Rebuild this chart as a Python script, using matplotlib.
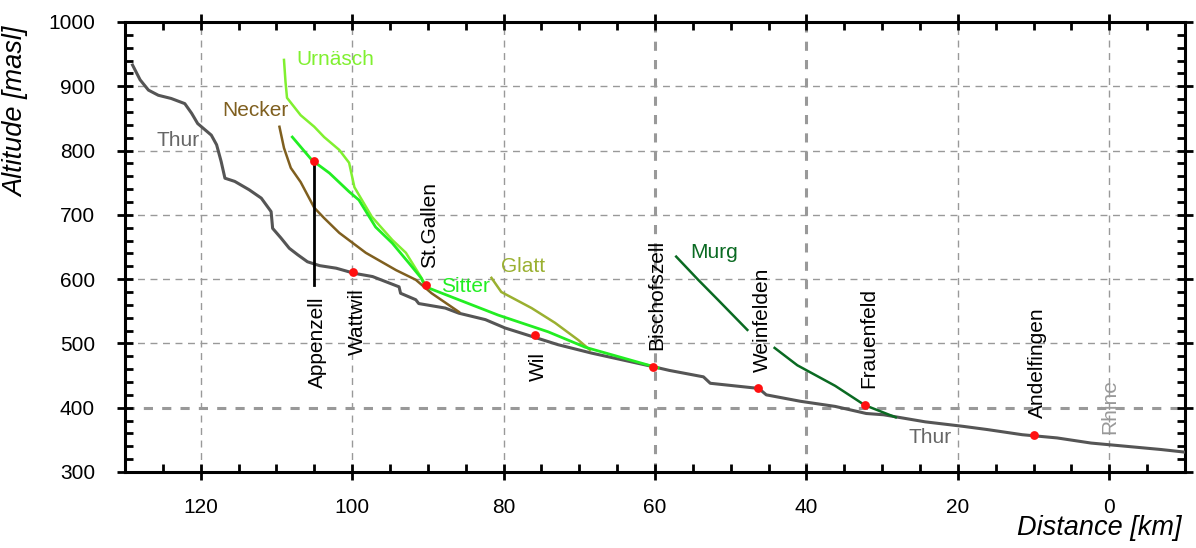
import matplotlib
matplotlib.use('Agg')
import matplotlib.pyplot as plt
from matplotlib.ticker import MultipleLocator

plt.rcParams['font.family'] = ['Liberation Sans', 'DejaVu Sans']

# river profiles: distance to Rhine [km], altitude [masl]
thur_km = [129.0, 128.0, 126.9, 125.6, 123.9, 122.1, 121.2, 120.4, 118.6, 117.9, 117.3, 116.8,
           115.5, 113.6, 112.0, 110.7, 110.5, 109.4, 108.3, 107.2, 105.9, 104.3, 102.1, 99.7,
           97.3, 93.8, 93.6, 91.6, 91.2, 87.7, 85.9, 82.4, 79.8, 76.3, 72.8, 68.4, 60.3,
           58.1, 53.6, 52.7, 46.3, 45.3, 40.8, 36.2, 32.1, 29.8, 24.3, 19.3, 16.1, 11.5,
           6.9, 2.4, -2.2, -6.8, -9.9]
thur_alt = [933, 910, 894, 886, 881, 873, 858, 842, 824, 809, 783, 757,
            752, 739, 726, 705, 679, 664, 648, 638, 627, 621, 617, 609,
            604, 588, 578, 568, 562, 555, 547, 537, 524, 511, 498, 485, 464,
            458, 448, 438, 430, 420, 410, 402, 391, 389, 378, 371, 366, 358,
            353, 345, 340, 335, 331]

urnaesch_km = [109.0, 108.8, 108.6, 106.8, 105.0, 103.7, 101.7, 100.4, 99.7, 97.4, 94.7, 92.9, 90.9, 90.5]
urnaesch_alt = [941, 907, 882, 855, 837, 821, 801, 781, 743, 697, 661, 641, 603, 595]

sitter_km = [107.9, 105.3, 103.0, 100.4, 99.1, 96.9, 94.7, 92.5, 90.9, 90.3, 80.7, 74.1, 69.2, 63.2, 59.6]
sitter_alt = [821, 785, 765, 736, 723, 681, 656, 625, 602, 588, 544, 518, 494, 474, 462]

necker_km = [109.6, 109.0, 108.1, 106.8, 105.0, 103.7, 101.7, 98.2, 94.2, 91.6, 89.5, 85.9]
necker_alt = [837, 804, 773, 751, 711, 695, 672, 641, 614, 599, 578, 549]

glatt_km = [81.6, 80.3, 76.3, 73.2, 70.1, 68.6]
glatt_alt = [602, 580, 555, 532, 505, 490]

murg1_km = [57.2, 54.3, 51.7, 47.8]
murg1_alt = [635, 599, 568, 521]
murg2_km = [44.2, 41.2, 36.2, 32.3, 28.2]
murg2_alt = [493, 466, 434, 404, 385]

# towns
towns = ['Appenzell', 'Wattwil', 'St.Gallen', 'Wil', 'Bischofszell', 'Weinfelden', 'Frauenfeld', 'Andelfingen']
town_km = [105.0, 99.9, 90.3, 75.9, 60.3, 46.4, 32.3, 10.0]
town_alt = [783, 611, 591, 513, 464, 430, 404, 358]
town_below = [True, True, False, True, False, False, False, False]
appenzell_foot = 591

fig = plt.figure(figsize=(11.96, 5.48), dpi=100)
ax = fig.add_axes([0.1045, 0.1387, 0.8863, 0.8212])

ax.set_xlim(130, -10)
ax.set_ylim(300, 1000)

# grid
for xv in [120, 100, 80, 20, 0]:
    ax.axvline(xv, color='#999999', ls=(0, (5, 4)), lw=1, zorder=0)
for xv in [60, 40]:
    ax.axvline(xv, color='#999999', ls=(0, (3, 3)), lw=2.2, zorder=0)
for yv in [500, 600, 700, 800, 900]:
    ax.axhline(yv, color='#999999', ls=(0, (5, 4)), lw=1, zorder=0)
ax.axhline(400, color='#999999', ls=(0, (3, 3)), lw=2.2, zorder=0)

ax.plot(thur_km, thur_alt, color='#555555', lw=2.2, zorder=3)
ax.plot(necker_km, necker_alt, color='#7f5f1f', lw=1.8, zorder=4)
ax.plot(urnaesch_km, urnaesch_alt, color='#80f030', lw=1.8, zorder=4)
ax.plot(sitter_km, sitter_alt, color='#22ee22', lw=2.0, zorder=5)
ax.plot(glatt_km, glatt_alt, color='#9ab030', lw=1.8, zorder=4)
ax.plot(murg1_km, murg1_alt, color='#0a6a22', lw=1.8, zorder=4)
ax.plot(murg2_km, murg2_alt, color='#0a6a22', lw=1.8, zorder=4)

# Appenzell marker line
ax.plot([town_km[0], town_km[0]], [town_alt[0], appenzell_foot], color='black', lw=2, zorder=5)

ax.scatter(town_km, town_alt, s=40, color='#ff1010', zorder=6, lw=0)

for name, xk, ya, below in zip(towns, town_km, town_alt, town_below):
    if name == 'Appenzell':
        ax.annotate(name, (xk, appenzell_foot), xytext=(2, -8), textcoords='offset points',
                    rotation=90, ha='center', va='top', fontsize=15)
    elif below:
        ax.annotate(name, (xk, ya), xytext=(3, -12), textcoords='offset points',
                    rotation=90, ha='center', va='top', fontsize=15)
    else:
        ax.annotate(name, (xk, ya), xytext=(3, 12), textcoords='offset points',
                    rotation=90, ha='center', va='bottom', fontsize=15)

# river names
ax.text(123.0, 816, 'Thur', color='#666666', fontsize=15, ha='center', va='center')
ax.text(23.7, 354, 'Thur', color='#666666', fontsize=15, ha='center', va='center')
ax.text(-0.1, 401, 'Rhine', color='#999999', fontsize=15, ha='center', va='center', rotation=90)
ax.text(107.3, 941, 'Urnäsch', color='#80f030', fontsize=15, ha='left', va='center')
ax.text(117.2, 863, 'Necker', color='#7f5f1f', fontsize=15, ha='left', va='center')
ax.text(88.2, 588, 'Sitter', color='#22ee22', fontsize=15, ha='left', va='center')
ax.text(80.4, 620, 'Glatt', color='#9ab030', fontsize=15, ha='left', va='center')
ax.text(55.4, 641, 'Murg', color='#0a6a22', fontsize=15, ha='left', va='center')

ax.xaxis.set_major_locator(MultipleLocator(20))
ax.xaxis.set_minor_locator(MultipleLocator(5))
ax.yaxis.set_major_locator(MultipleLocator(100))
ax.yaxis.set_minor_locator(MultipleLocator(20))
ax.tick_params(which='major', direction='inout', length=11, width=2, labelsize=15,
               top=True, right=True)
ax.tick_params(which='minor', direction='in', length=5.5, width=2, top=True, right=True)
ax.tick_params(axis='x', which='major', pad=13)
ax.tick_params(axis='y', which='major', pad=16)
for s in ax.spines.values():
    s.set_linewidth(2.2)

ax.set_xlabel('Distance [km]', fontsize=19.5, style='italic', ha='right')
ax.xaxis.set_label_coords(0.997, -0.095)
ax.set_ylabel('Altitude [masl]', fontsize=19.5, style='italic')
ax.yaxis.set_label_coords(-0.09, 0.80)

fig.savefig('out.png', dpi=100)
